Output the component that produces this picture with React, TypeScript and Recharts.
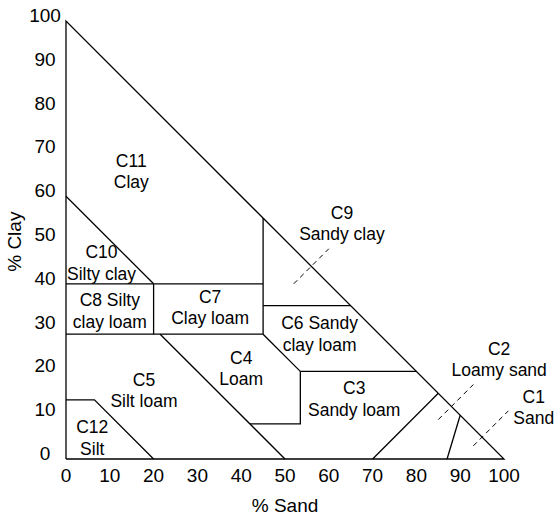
import React from 'react';
import { ComposedChart, Line, XAxis, YAxis, ReferenceLine, ReferenceDot } from 'recharts';

const sandTicks = [0, 10, 20, 30, 40, 50, 60, 70, 80, 90, 100];
const clayTicks = [0, 10, 20, 30, 40, 50, 60, 70, 80, 90, 100];

// boundaries (x = % sand, y = % clay)
const outline = [{ x: 0, y: 0 }, { x: 100, y: 0 }, { x: 0, y: 100 }, { x: 0, y: 0 }];
const siltyClayTop = [{ x: 0, y: 60 }, { x: 20, y: 40 }];
const clay40 = [{ x: 0, y: 40 }, { x: 45, y: 40 }];
const sand20 = [{ x: 20, y: 40 }, { x: 20, y: 28.5 }];
const clay28 = [{ x: 0, y: 28.5 }, { x: 45, y: 28.5 }];
const sand45 = [{ x: 45, y: 28.5 }, { x: 45, y: 55 }];
const clay35 = [{ x: 45, y: 35 }, { x: 65, y: 35 }];
const loamRight = [{ x: 45, y: 28.5 }, { x: 53.5, y: 20 }, { x: 53.5, y: 8 }, { x: 42, y: 8 }];
const clay20 = [{ x: 53.5, y: 20 }, { x: 80, y: 20 }];
const silt50 = [{ x: 21.5, y: 28.5 }, { x: 50, y: 0 }];
const siltArea = [{ x: 0, y: 13.5 }, { x: 6.5, y: 13.5 }, { x: 20, y: 0 }];
const loamySandTop = [{ x: 70, y: 0 }, { x: 85, y: 15 }];
const sandTop = [{ x: 87, y: 0 }, { x: 90, y: 10 }];

const boundaries = [outline, siltyClayTop, clay40, sand20, clay28, sand45, clay35, loamRight, clay20, silt50, siltArea, loamySandTop, sandTop];

// dashed leaders
const leaderC9 = [{ x: 52, y: 40 }, { x: 60, y: 48 }];
const leaderC2 = [{ x: 85, y: 9 }, { x: 93, y: 17 }];
const leaderC1 = [{ x: 93, y: 3 }, { x: 101, y: 11 }];
const leaders = [leaderC9, leaderC2, leaderC1];

// class labels
const classCodes = ['C11', 'C10', 'C8 Silty', 'C7', 'C4', 'C5', 'C12', 'C9', 'C6 Sandy', 'C3', 'C2', 'C1'];
const classNames = ['Clay', 'Silty clay', 'clay loam', 'Clay loam', 'Loam', 'Silt loam', 'Silt', 'Sandy clay', 'clay loam', 'Sandy loam', 'Loamy sand', 'Sand'];
const labelSand = [14.9, 8.1, 10.0, 32.9, 40.0, 17.8, 6.0, 63.0, 57.9, 65.8, 98.9, 106.8];
const labelClay = [65.7, 44.8, 33.8, 34.7, 20.7, 15.7, 4.9, 53.8, 28.6, 13.7, 22.8, 11.8];

const FONT = '"Liberation Sans", Arial, Helvetica, sans-serif';

const XTick = (props: any) => {
  const { x, y, payload } = props;
  return (
    <text x={x} y={y + 15} textAnchor="middle" fontSize={19} fontFamily={FONT} fill="#000">
      {payload.value}
    </text>
  );
};

const YTick = (props: any) => {
  const { x, y, payload } = props;
  return (
    <text x={x - 13} y={y + 1} textAnchor="middle" fontSize={19} fontFamily={FONT} fill="#000">
      {payload.value}
    </text>
  );
};

const makeLabelShape = (code: string, name: string) => (props: any) => {
  const { cx, cy } = props;
  return (
    <g>
      <text x={cx} y={cy - 4.5} textAnchor="middle" fontSize={17.5} fontFamily={FONT} fill="#000">
        {code}
      </text>
      <text x={cx} y={cy + 17} textAnchor="middle" fontSize={17.5} fontFamily={FONT} fill="#000">
        {name}
      </text>
    </g>
  );
};

export default function App() {
  return (
    <div style={{ position: 'absolute', left: 0, top: 0, background: '#fff' }}>
      <ComposedChart width={555} height={518} margin={{ top: 21, right: 51, bottom: 0, left: 0 }}>
        <XAxis
          type="number"
          dataKey="x"
          domain={[0, 100]}
          ticks={sandTicks}
          interval={0}
          axisLine={false}
          tickLine={false}
          height={59}
          tick={<XTick />}
          label={{
            content: (p: any) => {
              const vb = p.viewBox;
              return (
                <text x={vb.x + vb.width / 2} y={vb.y + 53} textAnchor="middle" fontSize={19} fontFamily={FONT} fill="#000">
                  % Sand
                </text>
              );
            },
          }}
        />
        <YAxis
          type="number"
          dataKey="y"
          domain={[0, 100]}
          ticks={clayTicks}
          interval={0}
          axisLine={false}
          tickLine={false}
          width={66}
          tick={<YTick />}
          label={{
            content: (p: any) => {
              const vb = p.viewBox;
              const cy = vb.y + vb.height / 2 + 1.7;
              return (
                <text x={21.5} y={cy} transform={`rotate(-90, 21.5, ${cy})`} textAnchor="middle" fontSize={19} fontFamily={FONT} fill="#000">
                  % Clay
                </text>
              );
            },
          }}
        />
        {boundaries.map((d, i) => (
          <Line
            key={'b' + i}
            data={d}
            dataKey="y"
            type="linear"
            stroke="#000"
            strokeWidth={1.3}
            dot={false}
            activeDot={false}
            isAnimationActive={false}
            legendType="none"
          />
        ))}
        {leaders.map((seg, i) => (
          <ReferenceLine
            key={'l' + i}
            segment={seg}
            stroke="#000"
            strokeWidth={1}
            strokeDasharray="5 4"
            ifOverflow="visible"
          />
        ))}
        {classCodes.map((code, i) => (
          <ReferenceDot
            key={'t' + i}
            x={labelSand[i]}
            y={labelClay[i]}
            r={0}
            ifOverflow="visible"
            shape={makeLabelShape(code, classNames[i])}
          />
        ))}
      </ComposedChart>
    </div>
  );
}
